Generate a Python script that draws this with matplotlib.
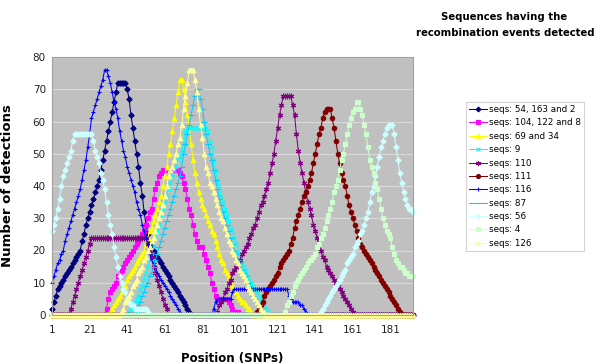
import numpy as np
import matplotlib.pyplot as plt

N_SNP = 193
positions = np.arange(1, N_SNP + 1)

# detections per SNP position; each series is (first position, counts),
# with zero detections everywhere outside those stretches
seq_54_163_2 = [
    (1, [2, 4, 6, 8, 9, 10, 11, 12, 13, 14, 15, 16, 17, 18, 19, 20,
         23, 25, 28, 30, 32, 34, 36, 38, 40, 42, 45, 48, 51, 54, 57, 60, 63, 66, 69,
         72, 72, 72, 72, 72,
         70, 67, 62, 58, 54, 50, 46, 41, 37, 32, 28, 25, 22, 21,
         20, 19, 18, 17, 16, 15, 14, 13, 12, 11, 10, 9, 8, 7, 6, 5, 4, 3, 2, 1, 0]),
]
seq_104_122_8 = [
    (29, [0, 2, 5, 7, 8, 9, 10, 12, 13, 14, 15, 16, 17, 18, 19, 20, 21, 22, 23, 24,
          25, 26, 28, 30, 32, 33, 36, 39, 41, 43, 44,
          45, 45, 45, 45, 45, 45, 45, 45, 45,
          44, 43, 41, 39, 36, 33, 31, 28, 25, 23, 21, 21, 21, 19, 17, 15, 13, 10, 8, 6,
          5, 5, 5, 5, 5, 5, 4, 3, 2, 1, 1, 1, 0]),
]
seq_69_34 = [
    (31, [0, 1, 2, 3, 4, 5, 6, 7, 8, 9, 11, 12, 13, 14, 15, 16, 17, 18, 19, 20,
          22, 24, 26, 27, 29, 31, 33, 35, 37, 40, 43, 46, 50, 53, 57, 61, 65, 69,
          73, 73,
          70, 66, 62, 58, 53, 48, 44, 41, 38, 36, 34, 33, 31, 29, 28, 26, 25, 23, 21,
          19, 17, 16, 14, 13, 12, 10, 9, 8, 7, 6, 5, 4, 4, 3, 2, 2, 1, 0]),
]
seq_9 = [
    (41, [0, 1, 2, 3, 4, 5, 6, 8, 9, 11, 13, 15, 17, 19, 21, 24, 26, 28, 31, 33,
          35, 37, 39, 41, 43, 45, 46, 48, 49, 51, 53, 57,
          58, 58, 58, 58, 58, 58, 58, 58, 58, 58, 58,
          57, 54, 52, 48, 45, 42, 40, 37, 35, 33, 31, 29, 27, 26, 24, 22, 20, 18, 16,
          15, 14, 12, 11, 10, 9, 8, 7, 6, 5, 4, 3, 2, 1, 0]),
]
seq_110 = [
    (10, [0, 2, 4, 6, 8, 10, 12, 14, 16, 18, 20, 22] + [24] * 30 +
         [22, 20, 18, 15, 13, 11, 9, 7, 5, 3, 2, 0]),
    (88, [0, 1, 3, 4, 5, 7, 8, 10, 11, 13, 14, 15, 16, 17, 19, 20, 21, 22, 24, 25,
          27, 28, 30, 32, 34, 35, 37, 39, 41, 44, 47, 50, 54, 58, 62, 65,
          68, 68, 68, 68, 68,
          65, 62, 56, 51, 47, 44, 41, 38, 35, 33, 31, 28, 26, 24, 22, 20, 18, 17, 15,
          14, 13, 12, 11, 10, 9, 8, 7, 6, 5, 4, 3, 2, 1, 0]),
]
seq_111 = [
    (109, [0, 1, 2, 3, 4, 6, 7, 8, 9, 10, 11, 12, 13, 15, 16, 17, 18, 19, 20, 22,
           24, 27, 29, 31, 33, 35, 37, 38, 40, 42, 44, 47, 50, 53, 56, 58, 61, 63,
           64, 64, 64,
           61, 58, 54, 50, 47, 44, 42, 40, 37, 34, 32, 30, 28, 26, 24, 22, 21, 20,
           19, 18, 17, 16, 15, 14, 13, 12, 11, 10, 9, 8, 7, 6, 5, 4, 3, 2, 1, 0]),
]
seq_116 = [
    (1, [10, 12, 14, 16, 17, 19, 20, 23, 25, 27, 29, 31, 33, 35, 37, 39, 42, 45, 48,
         52, 56, 61, 63, 65, 67, 69, 71, 73, 76, 76,
         74, 72, 69, 66, 64, 61, 57, 54, 51, 49, 46, 44, 42, 40, 38, 35, 33, 31, 28,
         26, 24, 22, 19, 17, 16, 15, 13, 12, 11, 10, 9, 8, 7, 6, 5, 4, 3, 2, 1, 0]),
    (86, [0, 2, 4, 5, 5, 5, 5, 5, 5, 5, 5, 7] + [8] * 28 +
         [8, 6, 5, 4, 4, 4, 4, 3, 3, 2, 1, 0]),
]
seq_87 = [
    (45, [0, 1, 3, 4, 6, 7, 9, 10, 12, 13, 15, 17, 19, 21, 23, 25, 27, 29, 31, 33,
          35, 37, 39, 41, 43, 46, 50, 53, 56, 59, 62, 65, 68, 70, 70,
          67, 64, 60, 56, 53, 50, 48, 45, 42, 39, 36, 34, 32, 30, 28, 26, 24, 22, 20,
          19, 17, 16, 14, 13, 12, 10, 9, 8, 6, 5, 4, 3, 2, 1, 0]),
]
seq_56 = [
    (1, [26, 28, 30, 33, 36, 40, 43, 45, 47, 49, 51, 54] + [56] * 10 +
        [54, 51, 49, 47, 44, 42, 39, 35, 31, 28, 25, 21, 18, 15, 12, 10, 8, 7, 5, 4,
         3, 3] + [2] * 7 + [1, 0]),
    (143, [0, 1, 2, 3, 4, 5, 6, 7, 8, 9, 10, 11, 12, 13, 14, 16, 17, 18, 19, 21,
           22, 23, 25, 26, 28, 30, 32, 35, 38, 40, 43, 46, 49, 52, 54, 56, 58,
           59, 59, 59,
           56, 52, 48, 44, 41, 38, 36, 34, 33, 33, 32]),
]
seq_4 = [
    (124, [0, 1, 3, 4, 6, 7, 9, 10, 11, 12, 13, 14, 15, 16, 17, 17, 18, 19, 21, 22,
           24, 25, 27, 29, 31, 33, 35, 38, 40, 42, 45, 48, 50, 53, 56, 59, 61, 63,
           64, 66, 66,
           64, 62, 59, 56, 52, 48, 46, 44, 41, 39, 36, 33, 30, 28, 26, 25, 24, 21,
           19, 17, 16, 15, 15, 14, 13, 13, 12, 12, 12]),
]
seq_126 = [
    (37, [0, 1, 2, 4, 5, 6, 7, 9, 10, 11, 13, 14, 15, 17, 18, 20, 21, 23, 24, 26,
          28, 30, 32, 34, 37, 40, 43, 45, 46, 48, 50, 53, 55, 59, 64, 68, 72,
          76, 76, 76,
          73, 69, 64, 59, 55, 50, 46, 44, 41, 40, 38, 36, 34, 32, 30, 29, 27, 25, 23,
          22, 20, 19, 17, 16, 14, 13, 12, 11, 9, 8, 7, 6, 5, 4, 3, 2, 1, 1, 0]),
]

labels = ["seqs: 54, 163 and 2", "seqs: 104, 122 and 8", "seqs: 69 and 34",
          "seqs: 9", "seqs: 110", "seqs: 111", "seqs: 116", "seqs: 87",
          "seqs: 56", "seqs: 4", "seqs: 126"]
all_series = [seq_54_163_2, seq_104_122_8, seq_69_34, seq_9, seq_110, seq_111,
              seq_116, seq_87, seq_56, seq_4, seq_126]

colors = ["#000080", "#FF00FF", "#FFFF00", "#00FFFF", "#800080", "#800000",
          "#0000FF", "#00CCFF", "#CCFFFF", "#CCFFCC", "#FFFF99"]
markers = ["D", "s", "^", "x", (6, 2, 0), "o", "+", "_", "D", "s", "^"]
msizes = [2.7, 3.2, 3.3, 3.0, 4.0, 3.2, 2.6, 4.0, 2.7, 3.2, 3.3]


def build(segments):
    y = np.zeros(N_SNP)
    for start, vals in segments:
        y[start - 1:start - 1 + len(vals)] = vals
    return y


fig = plt.figure(figsize=(6.04, 3.64), dpi=100)
ax = fig.add_axes([52 / 604, 1 - 315 / 364, 361 / 604, 258 / 364])
ax.set_facecolor("#C0C0C0")

for segs, lab, c, m, ms in zip(all_series, labels, colors, markers, msizes):
    ax.plot(positions, build(segs), color=c, lw=0.75, marker=m, ms=ms,
            mew=0.8, mec=c, mfc=c, label=lab, clip_on=False)

ax.set_xlim(1, N_SNP)
ax.set_ylim(0, 80)
ax.set_yticks(np.arange(0, 81, 10))
ax.set_xticks(np.arange(1, 182, 20))
ax.set_xticks(positions, minor=True)
ax.grid(axis="y", color="#DADADA", lw=0.8)
ax.set_axisbelow(True)

ax.tick_params(axis="both", which="major", labelsize=7.5, colors="#222222")
ax.tick_params(axis="y", length=0, pad=4.5)
ax.tick_params(axis="x", which="major", length=2.5, pad=5, color="#808080")
ax.tick_params(axis="x", which="minor", length=1.8, width=0.5, color="#808080")
for s in ax.spines.values():
    s.set_color("#A0A0A0")
    s.set_linewidth(0.8)

ax.set_ylabel("Number of detections", fontsize=9.5, fontweight="bold")
ax.yaxis.set_label_coords(-0.105, 0.5)
ax.set_xlabel("Position (SNPs)", fontsize=8.5, fontweight="bold")
ax.xaxis.set_label_coords(0.5, -0.143)

fig.text(504 / 604, 1 - 16.5 / 364, "Sequences having the", ha="center",
         va="center", fontsize=7.3, fontweight="bold")
fig.text(505 / 604, 1 - 33 / 364, "recombination events detected", ha="center",
         va="center", fontsize=7.3, fontweight="bold")

leg = fig.legend(loc="upper left", bbox_to_anchor=(466 / 604, 1 - 102 / 364),
                 fontsize=6.3, frameon=True, fancybox=False, borderaxespad=0,
                 handlelength=2.0, handletextpad=0.3, labelspacing=0.5,
                 borderpad=0.35, markerscale=0.9)
leg.get_frame().set_edgecolor("#C8C8C8")
leg.get_frame().set_linewidth(0.8)

fig.savefig("out.png", dpi=100)
